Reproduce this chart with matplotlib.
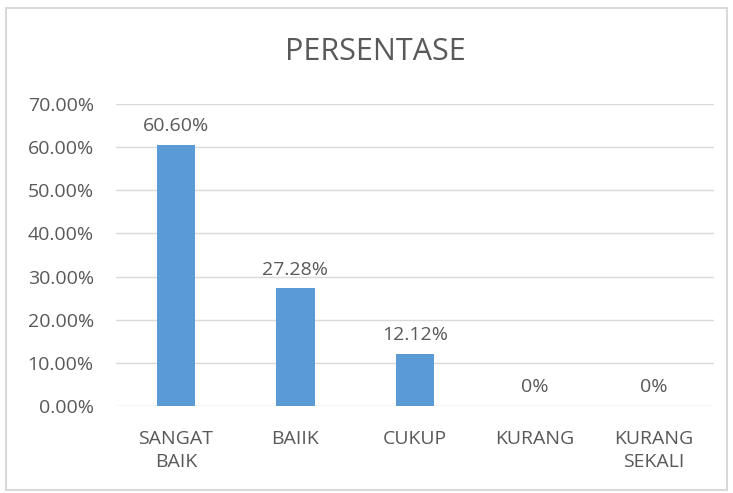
import matplotlib.pyplot as plt
from matplotlib.patches import Rectangle
from matplotlib.ticker import FuncFormatter

categories = ["SANGAT\nBAIK", "BAIIK", "CUKUP", "KURANG", "KURANG\nSEKALI"]
values = [60.60, 27.28, 12.12, 0, 0]
labels = ["60.60%", "27.28%", "12.12%", "0%", "0%"]

plt.rcParams['font.family'] = ['Open Sans', 'DejaVu Sans']
text_color = "#595959"

fig = plt.figure(figsize=(7.33, 4.93), dpi=100)
ax = fig.add_axes([116 / 733, 1 - 406 / 493, 598 / 733, 302 / 493])

x = range(len(categories))
ax.bar(x, values, width=0.32, color="#5B9BD5", zorder=3)
for i, (v, lab) in enumerate(zip(values, labels)):
    ax.annotate(lab, (i, v), xytext=(0, 7), textcoords="offset points",
                ha="center", va="bottom", fontsize=14, color=text_color)

ax.set_xlim(-0.5, len(categories) - 0.5)
ax.set_ylim(0, 70)
ax.set_yticks(range(0, 71, 10))
ax.yaxis.set_major_formatter(FuncFormatter(lambda v, p: f"{v:.2f}%"))
ax.set_xticks(list(x))
ax.set_xticklabels(categories, linespacing=1.4)
ax.tick_params(axis="y", length=0, pad=16, labelsize=14, labelcolor=text_color)
ax.tick_params(axis="x", length=0, pad=17, labelsize=14, labelcolor=text_color)
for lab in ax.get_xticklabels():
    lab.set_verticalalignment("top")
ax.grid(axis="y", color="#D9D9D9", linewidth=1, zorder=0)
for s in ax.spines.values():
    s.set_visible(False)

fig.text(375 / 733, 1 - 52 / 493, "PERSENTASE", ha="center", va="center",
         fontsize=22, color=text_color)
fig.patches.append(Rectangle((6 / 733, 3 / 493), 721 / 733, 482 / 493,
                             transform=fig.transFigure, fill=False,
                             edgecolor="#D9D9D9", linewidth=1.5))

fig.savefig("out.png", dpi=100)
